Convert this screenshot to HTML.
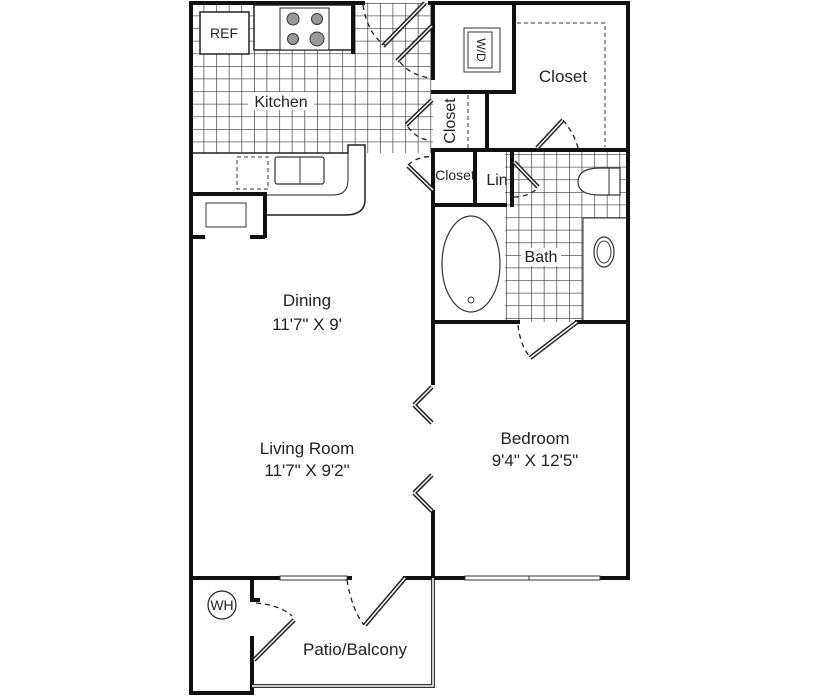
<!DOCTYPE html>
<html><head><style>
html,body{margin:0;padding:0;background:#fff;}
svg{display:block;}
text{font-family:"Liberation Sans",sans-serif;fill:#222;}
</style></head><body>
<svg width="819" height="697" viewBox="0 0 819 697" xmlns="http://www.w3.org/2000/svg">
<defs>
<pattern id="tile" x="191" y="3" width="12.6" height="12.6" patternUnits="userSpaceOnUse">
<rect width="12.6" height="12.6" fill="#fff"/>
<path d="M0 0H12.6M0 0V12.6" stroke="#333" stroke-width="1.3"/>
</pattern>
</defs>
<rect width="819" height="697" fill="#fff"/>
<rect x="191" y="3" width="242" height="150" fill="url(#tile)"/>
<rect x="505" y="150" width="123" height="172" fill="url(#tile)"/>
<rect x="583" y="218" width="45" height="104" fill="#fff"/>
<rect x="433" y="205" width="72" height="117" fill="#fff"/>
<rect x="200" y="12" width="49" height="42" fill="#fff" stroke="#222" stroke-width="1.5"/>
<text x="224" y="38" font-size="14" text-anchor="middle">REF</text>
<rect x="254" y="5" width="99" height="45" fill="#fff" stroke="#222" stroke-width="1.5"/>
<rect x="280" y="8" width="49" height="42" fill="#fff" stroke="#222" stroke-width="1"/>
<g fill="#999" stroke="#333" stroke-width="1"><circle cx="293" cy="19" r="6"/><circle cx="317" cy="19" r="5.5"/><circle cx="293" cy="39" r="5.5"/><circle cx="317" cy="39" r="7"/></g>
<rect x="248" y="92" width="66" height="18" fill="#fff"/>
<text x="281" y="107" font-size="16" text-anchor="middle">Kitchen</text>
<path d="M191 153H348V145H365V200Q365 215 345 215H265V195H191Z" fill="#fff" stroke="#222" stroke-width="1.5"/>
<path d="M348 145V180Q348 195 333 195H265" fill="none" stroke="#222" stroke-width="1"/>
<rect x="237" y="157" width="31" height="32" fill="none" stroke="#333" stroke-dasharray="4 3"/>
<rect x="275" y="157" width="49" height="27" fill="none" stroke="#333" stroke-width="1.2" rx="2"/>
<line x1="300" y1="157" x2="300" y2="184" stroke="#333"/>
<rect x="206" y="203" width="40" height="24" fill="none" stroke="#333"/>
<path d="M191 194H265V238M191 237H205M250 237H265" fill="none" stroke="#111" stroke-width="4"/>
<rect x="464" y="28" width="36" height="44" fill="#fff" stroke="#333"/>
<rect x="468" y="32" width="24" height="36" fill="none" stroke="#333"/>
<text x="481" y="50" font-size="12" text-anchor="middle" transform="rotate(90 481 50)" dy="4">W/D</text>
<path d="M517 23H605V147" fill="none" stroke="#333" stroke-dasharray="4 3"/>
<text x="563" y="82" font-size="17" text-anchor="middle">Closet</text>
<line x1="468" y1="95" x2="468" y2="148" stroke="#333" stroke-dasharray="4 3"/>
<text x="450" y="121" font-size="16" text-anchor="middle" transform="rotate(-90 450 121)" dy="5">Closet</text>
<text x="455" y="180" font-size="14" text-anchor="middle">Closet</text>
<text x="497" y="185" font-size="16" text-anchor="middle">Lin</text>
<path d="M600 168H620V195H600Q578 195 578 182Q578 168 600 168Z" fill="#fff" stroke="#333" stroke-width="1.2"/>
<line x1="609" y1="168" x2="609" y2="195" stroke="#333"/>
<ellipse cx="604" cy="252" rx="10" ry="15" fill="none" stroke="#333" stroke-width="1.2"/>
<ellipse cx="604" cy="252" rx="7" ry="11" fill="none" stroke="#333"/>
<path d="M583 218H628M583 218V322" stroke="#333" stroke-width="1"/>
<ellipse cx="471" cy="264" rx="29" ry="48" fill="none" stroke="#333" stroke-width="1.2"/>
<circle cx="471" cy="300" r="3" fill="none" stroke="#333"/>
<rect x="521" y="248" width="40" height="18" fill="#fff"/>
<text x="541" y="262" font-size="16" text-anchor="middle">Bath</text>
<g fill="none" stroke="#111" stroke-width="4" stroke-linecap="square">
<path d="M191 3V693"/>
<path d="M191 3H363"/>
<path d="M353 3V52"/>
<path d="M430 3H628V578H600"/>
<path d="M433 3V78M433 92H514M514 3V92M487 92V150M433 150H628"/>
<path d="M433 150V205M433 205H505M475 150V205M512 150V205"/>
<path d="M433 322H518M577 322H628"/>
<path d="M433 205V383M433 512V578"/>
<path d="M191 578H280M347 578H350M405 578H465M600 578H628"/>
<path d="M191 693H252V638"/>
<path d="M252 582V600H258"/>
</g>
<g fill="#fff" stroke="#333" stroke-width="1">
<rect x="280" y="576" width="67" height="4"/>
<rect x="465" y="576" width="64" height="4"/>
<rect x="529" y="576" width="71" height="4"/>
</g>
<path d="M252 686H433V578" fill="none" stroke="#333" stroke-width="4"/>
<path d="M252 686H433V578" fill="none" stroke="#fff" stroke-width="1.5"/>
<g fill="none" stroke="#222" stroke-width="4.5" stroke-linecap="butt">
<path d="M383 46L425 3M397 61L432 26M406 125L432 100M408 166L433 190M537 148L563 120M514 162L538 187M530 358L577 322M414 405L432 387M414 405L432 423M414 493L432 475M414 493L432 511M365 625L405 578M254 660L294 620"/>
</g>
<g fill="none" stroke="#fff" stroke-width="1.5">
<path d="M383 46L425 3M397 61L432 26M406 125L432 100M408 166L433 190M537 148L563 120M514 162L538 187M530 358L577 322M414 405L432 387M414 405L432 423M414 493L432 475M414 493L432 511M365 625L405 578M254 660L294 620"/>
</g>
<g fill="none" stroke="#222" stroke-width="1.3" stroke-dasharray="5 4">
<path d="M363 5Q368 35 385 45"/>
<path d="M400 62Q410 75 430 78"/>
<path d="M408 127Q418 140 430 140"/>
<path d="M408 165Q420 155 433 157"/>
<path d="M563 120Q575 135 578 148"/>
<path d="M514 197Q528 197 538 188"/>
<path d="M518 325Q520 345 530 357"/>
<path d="M347 580Q352 610 364 625"/>
<path d="M256 603Q280 605 292 616"/>
</g>
<circle cx="222" cy="605" r="14" fill="#fff" stroke="#222" stroke-width="1.2"/>
<text x="222" y="610" font-size="14" text-anchor="middle">WH</text>
<text x="307" y="306" font-size="17" text-anchor="middle">Dining</text>
<text x="307" y="330" font-size="17" text-anchor="middle">11'7" X 9'</text>
<text x="307" y="454" font-size="17" text-anchor="middle">Living Room</text>
<text x="307" y="476" font-size="17" text-anchor="middle">11'7" X 9'2"</text>
<text x="535" y="444" font-size="17" text-anchor="middle">Bedroom</text>
<text x="535" y="466" font-size="17" text-anchor="middle">9'4" X 12'5"</text>
<text x="355" y="655" font-size="17" text-anchor="middle">Patio/Balcony</text>
</svg>
</body></html>
